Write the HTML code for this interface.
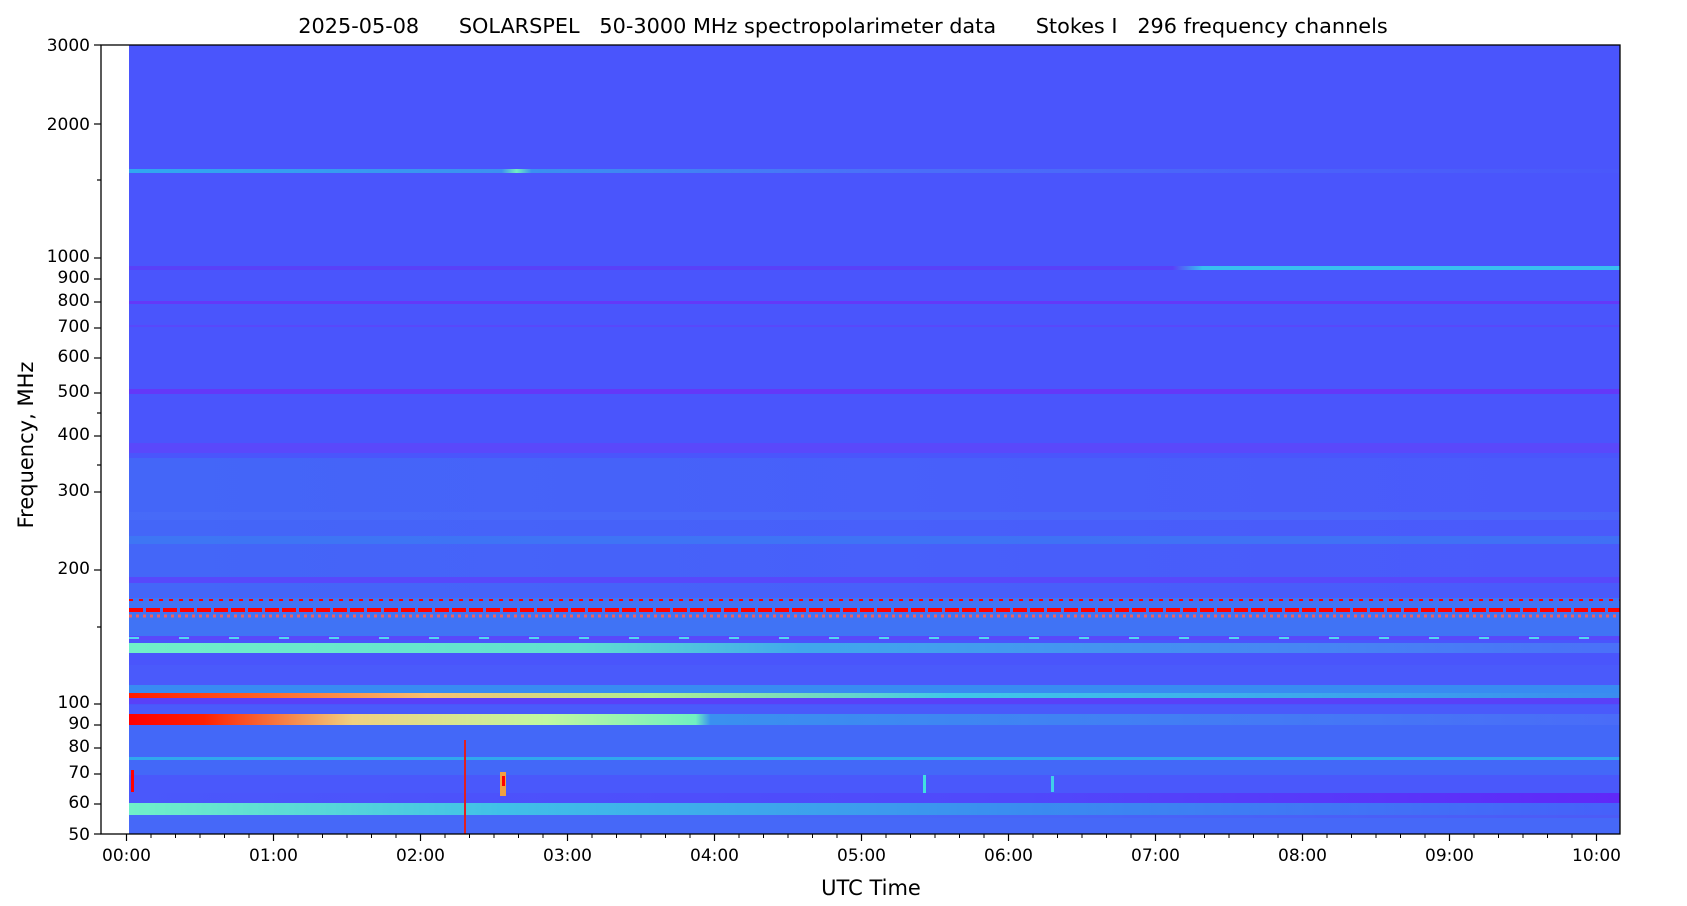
<!DOCTYPE html>
<html><head><meta charset="utf-8"><style>
html,body{margin:0;padding:0;background:#fff;}
svg{display:block;font-family:"DejaVu Sans","Liberation Sans",sans-serif;}
</style></head><body>
<svg width="1687" height="906" viewBox="0 0 1687 906" xmlns="http://www.w3.org/2000/svg">
<defs>
<linearGradient id="g103" x1="0" x2="1"><stop offset="0" stop-color="#ff1a00"/><stop offset="0.08" stop-color="#ff5a20"/><stop offset="0.2" stop-color="#f8c070"/><stop offset="0.35" stop-color="#b0f090"/><stop offset="0.55" stop-color="#40c8e8"/><stop offset="1" stop-color="#3a8cf0"/></linearGradient>
<linearGradient id="g90" x1="0" x2="1"><stop offset="0" stop-color="#ff0000"/><stop offset="0.05" stop-color="#ff2000"/><stop offset="0.15" stop-color="#f0d080"/><stop offset="0.28" stop-color="#c0f8a0"/><stop offset="0.38" stop-color="#70f0c0"/><stop offset="0.39" stop-color="#3a90f0"/><stop offset="1" stop-color="#4a6cf8"/></linearGradient>
<linearGradient id="g135" x1="0" x2="1"><stop offset="0" stop-color="#70f0c8"/><stop offset="0.3" stop-color="#60e0d0"/><stop offset="0.45" stop-color="#40a8ec"/><stop offset="1" stop-color="#4a70f8"/></linearGradient>
<linearGradient id="g55" x1="0" x2="1"><stop offset="0" stop-color="#70f0c8"/><stop offset="0.25" stop-color="#40c0e8"/><stop offset="0.6" stop-color="#3a8cf0"/><stop offset="1" stop-color="#4660fa"/></linearGradient>
<linearGradient id="g1600" x1="0" x2="1"><stop offset="0" stop-color="#30a8f0"/><stop offset="0.25" stop-color="#3c90f0"/><stop offset="0.26" stop-color="#70f0c0"/><stop offset="0.27" stop-color="#3a90f0"/><stop offset="0.5" stop-color="#4a70f8"/><stop offset="1" stop-color="#4a58fb"/></linearGradient>
<linearGradient id="g940" x1="0" x2="1"><stop offset="0" stop-color="#5a40f8"/><stop offset="0.7" stop-color="#5a40f8"/><stop offset="0.72" stop-color="#38c0f0"/><stop offset="1" stop-color="#38c0f0"/></linearGradient>
<linearGradient id="glow" x1="0" x2="1"><stop offset="0" stop-color="#3a80f2"/><stop offset="0.5" stop-color="#4470f6"/><stop offset="1" stop-color="#4a60fa"/></linearGradient>
<linearGradient id="gbot" x1="0" x2="1"><stop offset="0" stop-color="#4a58fb"/><stop offset="0.6" stop-color="#5048fb"/><stop offset="1" stop-color="#6028f8"/></linearGradient>
</defs>
<text x="843" y="33" font-size="20.8" text-anchor="middle" fill="#000" xml:space="preserve">2025-05-08      SOLARSPEL   50-3000 MHz spectropolarimeter data      Stokes I   296 frequency channels</text>
<rect x="129" y="45" width="1491" height="789" fill="#4a55fc"/>
<rect x="129" y="169" width="1491" height="4" fill="url(#g1600)"/>
<rect x="129" y="266" width="1491" height="4" fill="url(#g940)"/>
<rect x="129" y="301" width="1491" height="3" fill="#6438f8"/>
<rect x="129" y="325" width="1491" height="2" fill="#5848fb"/>
<rect x="129" y="389" width="1491" height="5" fill="#6438f8"/>
<rect x="129" y="443" width="1491" height="10" fill="#5a48fb"/>
<rect x="129" y="458" width="1491" height="140" fill="url(#glow)" opacity="0.4"/>
<rect x="129" y="512" width="1491" height="8" fill="#4a6cf8" opacity="0.6"/>
<rect x="129" y="536" width="1491" height="8" fill="#3a80f2" opacity="0.6"/>
<rect x="129" y="577" width="1491" height="6" fill="#5848fb"/>
<rect x="129" y="598" width="1491" height="40" fill="#3c80f2" opacity="0.7"/>
<line x1="129" y1="610" x2="1620" y2="610" stroke="#ff0000" stroke-width="4" stroke-dasharray="14 3"/>
<line x1="129" y1="600" x2="1620" y2="600" stroke="#ff0000" stroke-width="2" stroke-dasharray="4 6"/>
<line x1="129" y1="616" x2="1620" y2="616" stroke="#f06060" stroke-width="3" stroke-dasharray="3 4"/>
<rect x="129" y="636" width="1491" height="4" fill="#5a48fb"/>
<line x1="129" y1="638" x2="1620" y2="638" stroke="#50d8f0" stroke-width="2" stroke-dasharray="10 40"/>
<rect x="129" y="643" width="1491" height="10" fill="url(#g135)"/>
<rect x="129" y="665" width="1491" height="30" fill="#4a5afb"/>
<rect x="129" y="685" width="1491" height="8" fill="#30a0ee" opacity="0.7"/>
<rect x="129" y="693" width="1491" height="5" fill="url(#g103)"/>
<rect x="129" y="698" width="1491" height="6" fill="#5a40f8"/>
<rect x="129" y="714" width="1491" height="11" fill="url(#g90)"/>
<rect x="129" y="705" width="1491" height="9" fill="#4a5afb"/>
<rect x="129" y="725" width="1491" height="78" fill="#4070f6" opacity="0.7"/>
<rect x="129" y="757" width="1491" height="3" fill="#30a8ee"/>
<rect x="129" y="775" width="1491" height="18" fill="#4a58fb"/>
<rect x="129" y="793" width="1491" height="25" fill="url(#gbot)"/>
<rect x="129" y="803" width="1491" height="12" fill="url(#g55)"/>
<rect x="129" y="815" width="1491" height="19" fill="#4470f6" opacity="0.7"/>
<rect x="131" y="770" width="3" height="22" fill="#ff0000"/>
<rect x="464" y="740" width="2" height="94" fill="#e02020"/>
<rect x="500" y="772" width="6" height="24" fill="#f0a040"/>
<rect x="502" y="776" width="3" height="10" fill="#ff0000"/>
<rect x="923" y="775" width="3" height="18" fill="#40e0e0"/>
<rect x="1051" y="776" width="3" height="16" fill="#40d0e8"/>
<rect x="101" y="45" width="28" height="789" fill="#fff"/>
<rect x="101" y="45" width="1519" height="789" fill="none" stroke="#000" stroke-width="1.3"/>
<g font-size="17" text-anchor="end" fill="#000" stroke="#000">
<g stroke-width="1.2">
<line x1="94" x2="101" y1="45" y2="45"/><line x1="94" x2="101" y1="124" y2="124"/><line x1="94" x2="101" y1="258" y2="258"/><line x1="94" x2="101" y1="279" y2="279"/><line x1="94" x2="101" y1="302" y2="302"/><line x1="94" x2="101" y1="328" y2="328"/><line x1="94" x2="101" y1="358" y2="358"/><line x1="94" x2="101" y1="393" y2="393"/><line x1="94" x2="101" y1="436" y2="436"/><line x1="94" x2="101" y1="492" y2="492"/><line x1="94" x2="101" y1="570" y2="570"/><line x1="94" x2="101" y1="704" y2="704"/><line x1="94" x2="101" y1="725" y2="725"/><line x1="94" x2="101" y1="748" y2="748"/><line x1="94" x2="101" y1="774" y2="774"/><line x1="94" x2="101" y1="804" y2="804"/><line x1="94" x2="101" y1="834" y2="834"/>
<line x1="97" x2="101" y1="180" y2="180"/><line x1="97" x2="101" y1="465" y2="465"/><line x1="97" x2="101" y1="413" y2="413"/><line x1="97" x2="101" y1="627" y2="627"/>
</g>
<g stroke="none">
<text x="90" y="51">3000</text><text x="90" y="130">2000</text><text x="90" y="262">1000</text><text x="90" y="283">900</text><text x="90" y="306">800</text><text x="90" y="332">700</text><text x="90" y="362">600</text><text x="90" y="397">500</text><text x="90" y="440">400</text><text x="90" y="496">300</text><text x="90" y="574">200</text><text x="90" y="708">100</text><text x="90" y="729">90</text><text x="90" y="752">80</text><text x="90" y="778">70</text><text x="90" y="808">60</text><text x="90" y="840">50</text>
</g></g>
<g font-size="17" text-anchor="middle" fill="#000">
<g stroke="#000" stroke-width="1.2">
<line x1="126.5" x2="126.5" y1="834" y2="841"/><line x1="273.5" x2="273.5" y1="834" y2="841"/><line x1="420.5" x2="420.5" y1="834" y2="841"/><line x1="567.5" x2="567.5" y1="834" y2="841"/><line x1="714.5" x2="714.5" y1="834" y2="841"/><line x1="861.5" x2="861.5" y1="834" y2="841"/><line x1="1008.5" x2="1008.5" y1="834" y2="841"/><line x1="1155.5" x2="1155.5" y1="834" y2="841"/><line x1="1302.5" x2="1302.5" y1="834" y2="841"/><line x1="1449.5" x2="1449.5" y1="834" y2="841"/><line x1="1596.5" x2="1596.5" y1="834" y2="841"/>
</g>
<text x="126.5" y="861">00:00</text><text x="273.5" y="861">01:00</text><text x="420.5" y="861">02:00</text><text x="567.5" y="861">03:00</text><text x="714.5" y="861">04:00</text><text x="861.5" y="861">05:00</text><text x="1008.5" y="861">06:00</text><text x="1155.5" y="861">07:00</text><text x="1302.5" y="861">08:00</text><text x="1449.5" y="861">09:00</text><text x="1596.5" y="861">10:00</text>
</g>
<g stroke="#000" stroke-width="1">
<path d="M151 834v4M175.5 834v4M200 834v4M224.5 834v4M249 834v4M298 834v4M322.5 834v4M347 834v4M371.5 834v4M396 834v4M445 834v4M469.5 834v4M494 834v4M518.5 834v4M543 834v4M592 834v4M616.5 834v4M641 834v4M665.5 834v4M690 834v4M739 834v4M763.5 834v4M788 834v4M812.5 834v4M837 834v4M886 834v4M910.5 834v4M935 834v4M959.5 834v4M984 834v4M1033 834v4M1057.5 834v4M1082 834v4M1106.5 834v4M1131 834v4M1180 834v4M1204.5 834v4M1229 834v4M1253.5 834v4M1278 834v4M1327 834v4M1351.5 834v4M1376 834v4M1400.5 834v4M1425 834v4M1474 834v4M1498.5 834v4M1523 834v4M1547.5 834v4M1572 834v4"/>
</g>
<text x="871" y="895" font-size="21" text-anchor="middle">UTC Time</text>
<text transform="translate(33,445) rotate(-90)" font-size="21" text-anchor="middle">Frequency, MHz</text>
</svg>
</body></html>
